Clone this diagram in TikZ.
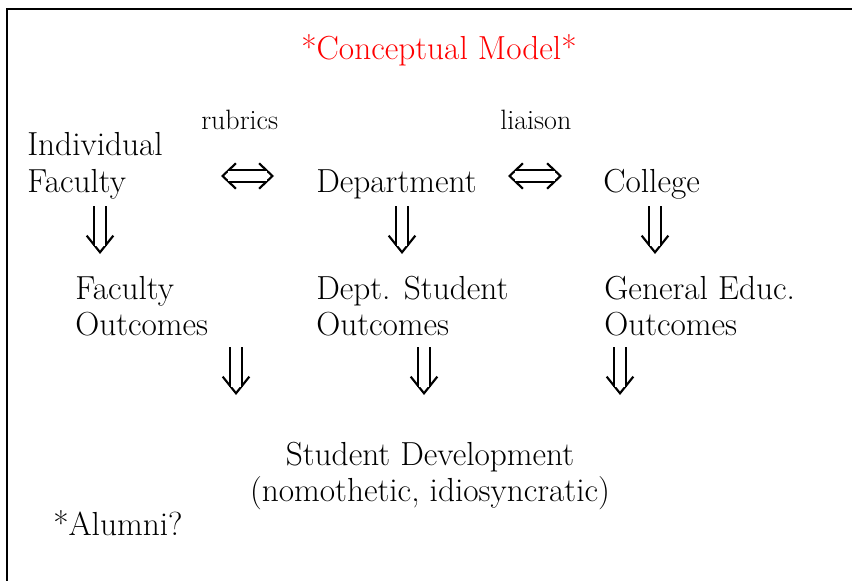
\documentclass[tikz,border=0pt]{standalone}
\usepackage{fontspec}
\usetikzlibrary{arrows.meta}

\tikzset{
  txt/.style={anchor=base west, inner sep=0pt, font=\fontsize{25}{30}\selectfont},
  smalltxt/.style={anchor=base west, inner sep=0pt, font=\fontsize{21}{25}\selectfont},
  % open chevron on a white line, double stem drawn on top
  dnarrow/.style={draw=white, line width=1.6pt,
    -{Straight Barb[length=12.5pt, width=20pt, black]},
    postaction={draw=black, double=white, double distance=8pt, line width=1.6pt,
      shorten >=6pt, -}},
  lrarrow/.style={draw=white, line width=1.6pt,
    {Straight Barb[length=10pt, width=19pt, black]}-{Straight Barb[length=10pt, width=19pt, black]},
    postaction={draw=black, double=white, double distance=8pt, line width=1.6pt,
      shorten >=5pt, shorten <=5pt, -}},
}

\begin{document}
\begin{tikzpicture}[x=0.75pt,y=-0.75pt]
  \useasboundingbox (0,0) rectangle (852,581);
  \draw[line width=1.5pt] (7,581) -- (7,9) -- (852,9);

  \node[txt, anchor=base, text=red] (title) at (439,60) {*Conceptual Model*};

  % top row
  \node[smalltxt] (rubrics) at (201,130) {rubrics};
  \node[smalltxt] (liaison) at (500,130) {liaison};
  \node[txt] (indiv) at (27,156) {Individual};
  \node[txt] (fac) at (27,192) {Faculty};
  \node[txt] (dept) at (316,192) {Department};
  \node[txt] (coll) at (603,192) {College};

  % middle row
  \node[txt] (fout1) at (75,299) {Faculty};
  \node[txt] (fout2) at (75,335) {Outcomes};
  \node[txt] (dout1) at (316,299) {Dept. Student};
  \node[txt] (dout2) at (316,335) {Outcomes};
  \node[txt] (gout1) at (604,299) {General Educ.};
  \node[txt] (gout2) at (604,335) {Outcomes};

  % bottom
  \node[txt, anchor=base] (dev1) at (430,465) {Student Development};
  \node[txt, anchor=base] (dev2) at (430,501) {(nomothetic, idiosyncratic)};
  \node[txt] (alumni) at (53,535) {*Alumni?};

  % arrows
  \coordinate (lr1a) at (221,176);
  \coordinate (lr1b) at (274,176);
  \coordinate (lr2a) at (508,176);
  \coordinate (lr2b) at (562,176);
  \draw[lrarrow] (lr1a) -- (lr1b);
  \draw[lrarrow] (lr2a) -- (lr2b);

  \coordinate (d1a) at (100,206);  \coordinate (d1b) at (100,254);
  \coordinate (d2a) at (402,206);  \coordinate (d2b) at (402,254);
  \coordinate (d3a) at (655,206);  \coordinate (d3b) at (655,254);
  \coordinate (d4a) at (236,347);  \coordinate (d4b) at (236,395);
  \coordinate (d5a) at (424,347);  \coordinate (d5b) at (424,395);
  \coordinate (d6a) at (620,347);  \coordinate (d6b) at (620,395);
  \foreach \i in {1,...,6}
    \draw[dnarrow] (d\i a) -- (d\i b);
\end{tikzpicture}
\end{document}
